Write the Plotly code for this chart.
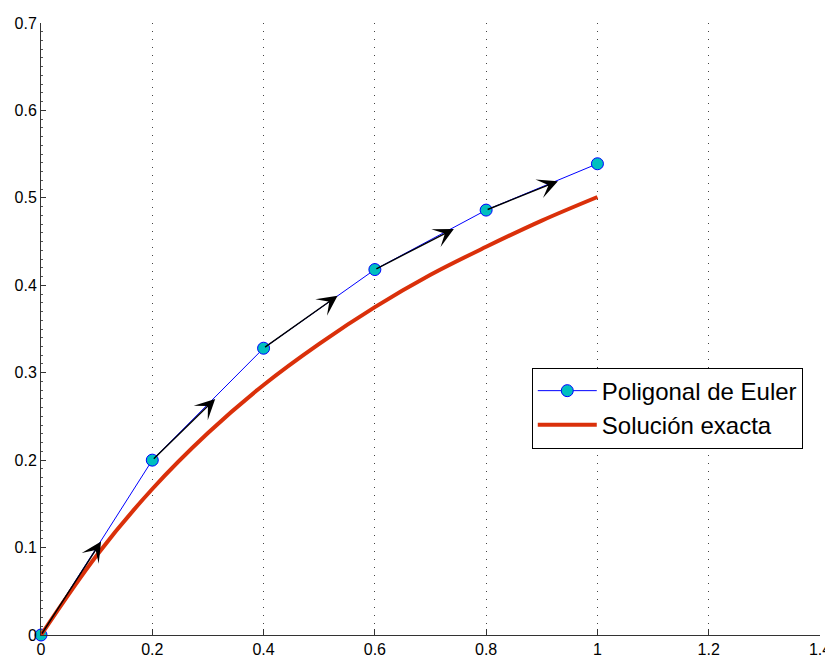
import plotly.graph_objects as go

# Euler polygon (h = 0.2)
euler_x = [0.0, 0.2, 0.4, 0.6, 0.8, 1.0]
euler_y = [0.0, 0.2, 0.328, 0.418, 0.486, 0.539]

# Exact solution
exact_x = [0.0, 0.1, 0.2, 0.3, 0.4, 0.5, 0.6, 0.7, 0.8, 0.9, 1.0]
exact_y = [0.0, 0.091, 0.167, 0.231, 0.286, 0.333, 0.375, 0.412, 0.444, 0.474, 0.501]

# Slope arrows: tails at the first five Euler points, tips
arrow_tail_x = [0.0, 0.2, 0.4, 0.6, 0.8]
arrow_tail_y = [0.0, 0.2, 0.328, 0.418, 0.486]
arrow_tip_x = [0.108, 0.313, 0.533, 0.742, 0.929]
arrow_tip_y = [0.107, 0.270, 0.388, 0.4645, 0.519]

x_ticks = [0, 0.2, 0.4, 0.6, 0.8, 1, 1.2, 1.4]
x_tick_labels = ["0", "0.2", "0.4", "0.6", "0.8", "1", "1.2", "1.4"]
y_ticks = [0, 0.1, 0.2, 0.3, 0.4, 0.5, 0.6, 0.7]
y_tick_labels = ["0", "0.1", "0.2", "0.3", "0.4", "0.5", "0.6", "0.7"]

fig = go.Figure()
fig.add_trace(go.Scatter(
    x=euler_x, y=euler_y, mode="lines+markers", name="Poligonal de Euler",
    line=dict(color="#0000FF", width=1),
    marker=dict(size=12, color="#00BFBF", line=dict(color="#0000FF", width=1)),
    cliponaxis=False,
))
fig.add_trace(go.Scatter(
    x=exact_x, y=exact_y, mode="lines", name="Solución exacta",
    line=dict(color="rgb(218,48,10)", width=4, shape="spline"),
    cliponaxis=False,
))

for tx, ty, hx, hy in zip(arrow_tail_x, arrow_tail_y, arrow_tip_x, arrow_tip_y):
    fig.add_annotation(
        x=hx, y=hy, ax=tx, ay=ty, xref="x", yref="y", axref="x", ayref="y",
        text="", showarrow=True, arrowhead=3, arrowsize=2.4, arrowwidth=1.4,
        arrowcolor="black", standoff=0, startstandoff=0,
    )

axis_font = dict(family="Liberation Sans, Arial, sans-serif", size=16, color="black")

fig.update_xaxes(
    range=[0, 1.4], tickmode="array", tickvals=x_ticks, ticktext=x_tick_labels,
    ticks="inside", ticklen=6, tickcolor="#333333", showline=True, linecolor="#333333",
    linewidth=1, showgrid=True, gridcolor="#444444", gridwidth=1, griddash="1px,7px",
    zeroline=False, tickfont=axis_font, mirror=False, automargin=False,
)
fig.update_yaxes(
    range=[0, 0.7], tickmode="array", tickvals=y_ticks, ticktext=y_tick_labels,
    ticks="inside", ticklen=5, tickcolor="#333333", showline=True, linecolor="#333333",
    linewidth=1, showgrid=False, zeroline=False, tickfont=axis_font, mirror=False,
    automargin=False,
    minor=dict(dtick=0.01, ticks="inside", ticklen=2, tickcolor="#555555", showgrid=False),
)

# the page body adds an 8px offset, so margins compensate for it
fig.update_layout(
    width=833, height=660,
    margin=dict(l=33, r=21, t=15, b=33),
    plot_bgcolor="white", paper_bgcolor="white",
    showlegend=True,
    legend=dict(
        x=0.630, y=0.437, xanchor="left", yanchor="top",
        bgcolor="white", bordercolor="black", borderwidth=1,
        font=dict(family="Liberation Sans, Arial, sans-serif", size=24, color="black"),
        tracegroupgap=0, itemwidth=59,
    ),
)

fig.write_html("out.html")
